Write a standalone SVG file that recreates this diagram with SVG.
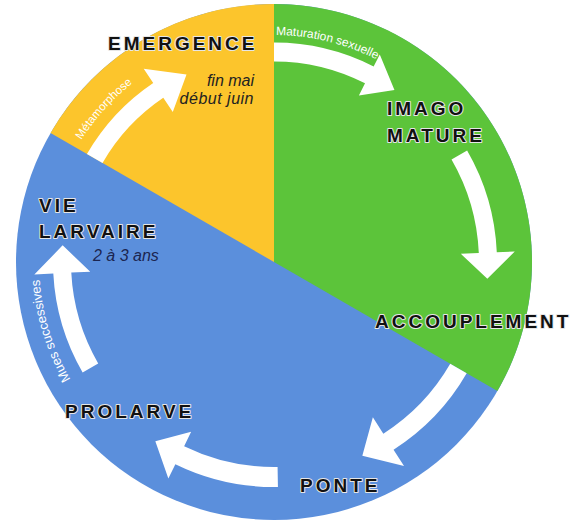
<svg xmlns="http://www.w3.org/2000/svg" width="576" height="526" viewBox="0 0 576 526">
  <defs>
    <style>
      .stage { font-family: "Liberation Sans", Arial, sans-serif; font-weight: bold; font-size: 19px; letter-spacing: 3px; fill: #111; stroke: #e6e6e6; stroke-width: 2; paint-order: stroke; stroke-linejoin: round; }
      .note { font-family: "Liberation Sans", Arial, sans-serif; font-style: italic; font-size: 16px; fill: #222; }
      .arc-label { font-family: "Liberation Sans", Arial, sans-serif; font-size: 11.5px; fill: #ffffff; }
      .arrow { fill: #ffffff; }
    </style>
    <!-- baselines for the small labels that follow the arrows -->
    <path id="arc-meta" d="M 55.96 195.33 A 228 228 0 0 1 184.92 52.13"/>
    <path id="arc-matur" d="M 275.98 35 A 227 227 0 0 1 447.9 116.1"/>
    <path id="arc-mues" d="M 71.52 381.26 A 235 235 0 0 1 53.17 181.63"/>
  </defs>

  <rect width="576" height="526" fill="#ffffff"/>

  <!-- sectors of the cycle wheel, centre (274,262), r 258 -->
  <g id="sectors">
    <circle cx="274" cy="262" r="258" fill="#5b8fdc"/>
    <!-- yellow: from the upper-left diagonal to the top -->
    <path d="M 274 262 L 50.57 133 A 258 258 0 0 1 274 4 Z" fill="#fcc52c"/>
    <!-- green: from the top round to the lower-right diagonal -->
    <path d="M 274 262 L 274 4 A 258 258 0 0 1 497.43 391 Z" fill="#5cc43a"/>
  </g>

  <g id="connectors">
    <!-- emergence -->
    <path class="arrow" d="M 86.94 154 A 216 216 0 0 1 153.21 82.94 L 143.71 68.84 L 186.52 74.4 L 172.78 111.95 L 163.28 97.86 A 198 198 0 0 0 102.53 163 Z"/>
    <!-- maturation -->
    <path class="arrow" d="M 274 42.5 A 219.5 219.5 0 0 1 373.65 66.43 L 379.78 54.4 L 394.46 89.97 L 358.9 95.38 L 365.03 83.35 A 200.5 200.5 0 0 0 274 61.5 Z"/>
    <!-- imago to accouplement -->
    <path class="arrow" d="M 467.12 150.5 A 223 223 0 0 1 496.79 252.27 L 514.77 251.49 L 487.34 278.79 L 460.82 253.84 L 478.8 253.06 A 205 205 0 0 0 451.53 159.5 Z"/>
    <!-- accouplement to ponte -->
    <path class="arrow" d="M 466.69 373.25 A 222.5 222.5 0 0 1 393.55 449.66 L 404.03 466.1 L 362.33 455.83 L 372.86 417.19 L 383.34 433.63 A 203.5 203.5 0 0 0 450.23 363.75 Z"/>
    <!-- ponte to prolarve -->
    <path class="arrow" d="M 277.93 486.97 A 225 225 0 0 1 175.36 464.23 L 168.35 478.61 L 155.34 441.29 L 191.14 431.87 L 184.13 446.25 A 205 205 0 0 0 277.58 466.97 Z"/>
    <!-- prolarve to vie larvaire -->
    <path class="arrow" d="M 82.61 372.5 A 221 221 0 0 1 53.3 273.57 L 34.33 274.56 L 62.65 245.37 L 90.25 271.63 L 71.28 272.62 A 203 203 0 0 0 98.2 363.5 Z"/>

    <text class="arc-label"><textPath href="#arc-meta" startOffset="50%" text-anchor="middle">Métamorphose</textPath></text>
    <text class="arc-label" font-size="12" style="font-size:12px"><textPath href="#arc-matur">Maturation sexuelle</textPath></text>
    <text class="arc-label" style="font-size:13px"><textPath href="#arc-mues" startOffset="2">Mues successives</textPath></text>
  </g>

  <g id="emergence">
    <text class="stage" x="108" y="50">EMERGENCE</text>
    <text class="note" x="254" y="86" text-anchor="end">fin mai</text>
    <text class="note" x="254" y="104" text-anchor="end" letter-spacing="0.5">début juin</text>
  </g>
  <g id="imago">
    <text class="stage" x="387" y="115">IMAGO</text>
    <text class="stage" x="387" y="142">MATURE</text>
  </g>
  <g id="accouplement">
    <text class="stage" x="375" y="328">ACCOUPLEMENT</text>
  </g>
  <g id="ponte">
    <text class="stage" x="300" y="492">PONTE</text>
  </g>
  <g id="prolarve">
    <text class="stage" x="65" y="418">PROLARVE</text>
  </g>
  <g id="vie-larvaire">
    <text class="stage" x="39" y="212">VIE</text>
    <text class="stage" x="39" y="238">LARVAIRE</text>
    <text class="note" x="93" y="261" style="fill:#1b2550">2 à 3 ans</text>
  </g>
</svg>
